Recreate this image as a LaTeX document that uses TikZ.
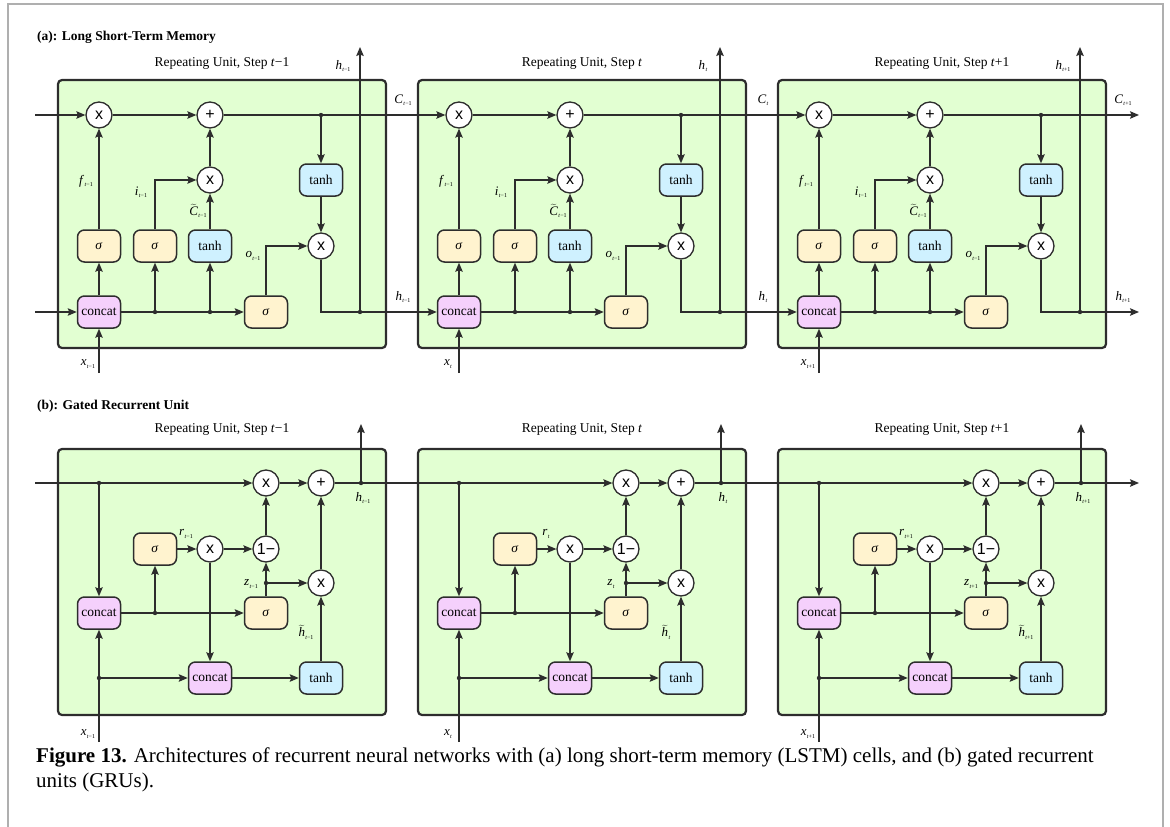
\documentclass[tikz,border=0pt]{standalone}
\usepackage{fontspec}
\setmainfont{Liberation Serif}
\newfontfamily\opfont{Liberation Sans}
\usetikzlibrary{arrows.meta}

\definecolor{linecol}{RGB}{45,45,45}
\definecolor{framegray}{RGB}{175,175,175}
\definecolor{unitgreen}{RGB}{226,255,210}
\definecolor{sigfill}{RGB}{255,243,207}
\definecolor{tanhfill}{RGB}{207,241,255}
\definecolor{catfill}{RGB}{245,208,252}

% italic variable with a small time-step subscript
\newcommand\tsub[1]{\raisebox{-2.4pt}{\fontsize{6}{6}\selectfont\textit{t}#1}}
\newcommand\tvar[2]{\textit{#1}\kern0.3pt\tsub{#2}}
\newcommand\wvar[2]{$\widetilde{\mbox{\textit{#1}}}$\kern0.3pt\tsub{#2}}

\tikzset{
  line/.style={draw=linecol, line width=1.2pt},
  arr/.style={line, -{Stealth[length=9pt,width=7.5pt,inset=1.5pt]}},
  opnode/.style={circle, draw=linecol, line width=1.3pt, fill=white,
    minimum size=26pt, inner sep=0pt, font=\opfont\fontsize{16}{16}\selectfont},
  gatebox/.style={rounded corners=7pt, draw=linecol, line width=1.5pt,
    minimum width=43pt, minimum height=32pt, inner sep=0pt,
    font=\fontsize{13.5}{13.5}\selectfont},
  sigbox/.style={gatebox, fill=sigfill},
  tanhbox/.style={gatebox, fill=tanhfill},
  catbox/.style={gatebox, fill=catfill},
  unitbox/.style={draw=linecol, line width=2.2pt, rounded corners=4pt, fill=unitgreen},
  lab/.style={inner sep=0pt, font=\fontsize{13}{13}\selectfont},
  unittitle/.style={inner sep=0pt, anchor=base, font=\fontsize{13.5}{13.5}\selectfont},
  paneltitle/.style={inner sep=0pt, anchor=base west, font=\bfseries\fontsize{13.5}{13.5}\selectfont},
  captext/.style={anchor=base west, inner sep=0pt, font=\fontsize{21}{21}\selectfont},
  jdot/.style={fill=linecol},
}

\begin{document}
\begin{tikzpicture}[x=1pt,y=-1pt]
\useasboundingbox (0,0) rectangle (1170,827);
\draw[framegray, line width=1.5pt] (8,830) -- (8,4) -- (1163,4) -- (1163,830);

\node[paneltitle] (titleA) at (37,40) {(a): Long Short-Term Memory};
\node[paneltitle] (titleB) at (37,409) {(b): Gated Recurrent Unit};

% ---------------- LSTM cells ----------------
\foreach \i/\s in {0/−1,1/{},2/+1} {
\begin{scope}[xshift=360*\i]
  \draw[unitbox] (58,80) rectangle (386,348);
  \node[unittitle] (lt\i) at (222,66) {Repeating Unit, Step \textit{t}\s};

  \node[opnode] (fx\i) at (99,115) {x};
  \node[opnode] (ca\i) at (210,115) {+};
  \node[opnode] (ix\i) at (210,180) {x};
  \node[tanhbox] (ct\i) at (321,180) {tanh};
  \node[sigbox] (fs\i) at (99,246) {\textit{σ}};
  \node[sigbox] (is\i) at (155,246) {\textit{σ}};
  \node[tanhbox] (gt\i) at (210,246) {tanh};
  \node[opnode] (ox\i) at (321,246) {x};
  \node[catbox] (cc\i) at (99,312) {concat};
  \node[sigbox] (os\i) at (266,312) {\textit{σ}};

  \coordinate (da\i) at (155,312);
  \coordinate (db\i) at (210,312);
  \coordinate (dc\i) at (321,115);
  \coordinate (dh\i) at (360,312);
  \coordinate (ht\i) at (360,47);
  \coordinate (xb\i) at (99,373);

  \draw[arr] (fx\i) -- (ca\i);
  \draw[line] (ca\i) -- (dc\i);
  \draw[arr] (dc\i) -- (ct\i);
  \draw[arr] (ct\i) -- (ox\i);
  \draw[arr] (ix\i) -- (ca\i);
  \draw[arr] (gt\i) -- (ix\i);
  \draw[arr] (is\i) |- (ix\i);
  \draw[arr] (fs\i) -- (fx\i);
  \draw[arr] (cc\i) -- (fs\i);
  \draw[line] (cc\i) -- (db\i);
  \draw[arr] (db\i) -- (os\i);
  \draw[arr] (da\i) -- (is\i);
  \draw[arr] (db\i) -- (gt\i);
  \draw[arr] (os\i) |- (ox\i);
  \draw[line] (ox\i) |- (dh\i);
  \draw[arr] (dh\i) -- (ht\i);
  \draw[arr] (xb\i) -- (cc\i);

  \fill[jdot] (da\i) circle (2.2pt) (db\i) circle (2.2pt)
              (dc\i) circle (2.2pt) (dh\i) circle (2.2pt);

  \node[lab] (lf\i) at (86,181) {\tvar{f}{−1}};
  \node[lab] (li\i) at (141,192) {\tvar{i}{−1}};
  \node[lab] (lg\i) at (198,211) {\wvar{C}{−1}};
  \node[lab] (lo\i) at (253,256) {\tvar{o}{−1}};
  \node[lab] (lht\i) at (343,66) {\tvar{h}{\s}};
  \node[lab] (lc\i) at (403,100) {\tvar{C}{\s}};
  \node[lab] (lh\i) at (403,297) {\tvar{h}{\s}};
  \node[lab] (lx\i) at (88,364) {\tvar{x}{\s}};
\end{scope}
}

\coordinate (inC) at (35,115);
\coordinate (inH) at (35,312);
\coordinate (outC) at (1139,115);
\coordinate (outH) at (1139,312);
\draw[arr] (inC) -- (fx0);
\draw[arr] (inH) -- (cc0);
\draw[arr] (dc0) -- (fx1);
\draw[arr] (dc1) -- (fx2);
\draw[arr] (dc2) -- (outC);
\draw[arr] (dh0) -- (cc1);
\draw[arr] (dh1) -- (cc2);
\draw[arr] (dh2) -- (outH);

% ---------------- GRU cells ----------------
\foreach \i/\s in {0/−1,1/{},2/+1} {
\begin{scope}[xshift=360*\i]
  \draw[unitbox] (58,449) rectangle (386,715);
  \node[unittitle] (gtt\i) at (222,432) {Repeating Unit, Step \textit{t}\s};

  \node[opnode] (ma\i) at (266,483) {x};
  \node[opnode] (ad\i) at (321,483) {+};
  \node[sigbox] (sr\i) at (155,549) {\textit{σ}};
  \node[opnode] (mr\i) at (210,549) {x};
  \node[opnode] (om\i) at (266,549) {1−};
  \node[opnode] (mz\i) at (321,583) {x};
  \node[catbox] (ka\i) at (99,613) {concat};
  \node[sigbox] (sz\i) at (266,613) {\textit{σ}};
  \node[catbox] (kb\i) at (210,678) {concat};
  \node[tanhbox] (th\i) at (321,678) {tanh};

  \coordinate (gi\i) at (99,483);
  \coordinate (go\i) at (361,483);
  \coordinate (gu\i) at (361,424);
  \coordinate (gz\i) at (266,583);
  \coordinate (gk\i) at (155,613);
  \coordinate (gx\i) at (99,678);
  \coordinate (gb\i) at (99,742);

  \draw[arr] (gi\i) -- (ma\i);
  \draw[arr] (ma\i) -- (ad\i);
  \draw[line] (ad\i) -- (go\i);
  \draw[arr] (go\i) -- (gu\i);
  \draw[arr] (gi\i) -- (ka\i);
  \draw[arr] (gb\i) -- (ka\i);
  \draw[arr] (gx\i) -- (kb\i);
  \draw[arr] (ka\i) -- (sz\i);
  \draw[arr] (gk\i) -- (sr\i);
  \draw[arr] (sr\i) -- (mr\i);
  \draw[arr] (mr\i) -- (om\i);
  \draw[arr] (mr\i) -- (kb\i);
  \draw[arr] (sz\i) -- (om\i);
  \draw[arr] (gz\i) -- (mz\i);
  \draw[arr] (om\i) -- (ma\i);
  \draw[arr] (kb\i) -- (th\i);
  \draw[arr] (th\i) -- (mz\i);
  \draw[arr] (mz\i) -- (ad\i);

  \fill[jdot] (gi\i) circle (2.2pt) (go\i) circle (2.2pt) (gz\i) circle (2.2pt)
              (gk\i) circle (2.2pt) (gx\i) circle (2.2pt);

  \node[lab] (lr\i) at (186,534) {\tvar{r}{\s}};
  \node[lab] (lz\i) at (251,584) {\tvar{z}{\s}};
  \node[lab] (lw\i) at (306,632) {\wvar{h}{\s}};
  \node[lab] (lgh\i) at (363,498) {\tvar{h}{\s}};
  \node[lab] (lgx\i) at (88,734) {\tvar{x}{\s}};
\end{scope}
}

\coordinate (inG) at (35,483);
\coordinate (outG) at (1139,483);
\draw[line] (inG) -- (gi0);
\draw[line] (go0) -- (gi1);
\draw[line] (go1) -- (gi2);
\draw[arr] (go2) -- (outG);

% ---------------- caption ----------------
\node[captext] (cap1) at (36,762)
  {\textbf{Figure 13.} Architectures of recurrent neural networks with (a) long short-term memory (LSTM) cells, and (b) gated recurrent};
\node[captext] (cap2) at (36,787)
  {units (GRUs).};
\end{tikzpicture}
\end{document}
